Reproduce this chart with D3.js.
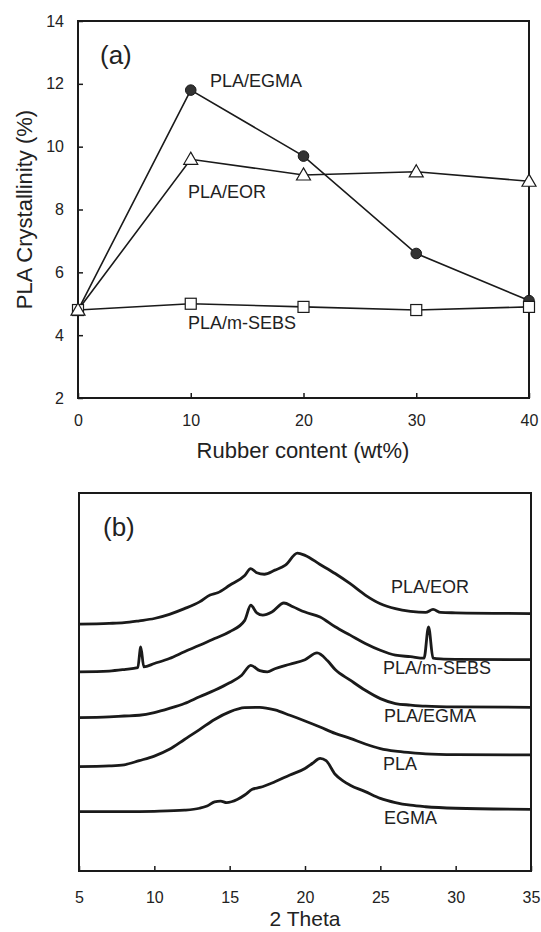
<!DOCTYPE html>
<html>
<head>
<meta charset="utf-8">
<script src="https://cdn.jsdelivr.net/npm/d3@7"></script>
<style>
  body { margin: 0; background: #fff; }
  svg text { font-family: "Liberation Sans", Arial, sans-serif; fill: #222; }
</style>
</head>
<body>
<svg id="chart" width="541" height="932"></svg>
<script>
// ---- panel (a): crystallinity vs rubber content ----
var rubber = [0, 10, 20, 30, 40];
var egma = [4.8, 11.8, 9.7, 6.6, 5.1];
var eor = [4.8, 9.6, 9.1, 9.2, 8.9];
var msebs = [4.8, 5.0, 4.9, 4.8, 4.9];
var aTicksX = [0, 10, 20, 30, 40];
var aTicksY = [2, 4, 6, 8, 10, 12, 14];

// ---- panel (b): XRD patterns, intensity in arbitrary units (offset stacked) ----
var thEGMA = [5, 8, 10, 12, 13, 13.5, 14, 14.4, 14.8, 15.5, 16, 16.5, 17, 18, 19, 20, 20.5, 21, 21.4, 22, 22.5, 23, 24, 25, 26, 27, 28, 30, 35];
var inEGMA = [15.7, 15.7, 15.8, 16.1, 16.6, 17.2, 18.3, 18.5, 18.1, 18.9, 20.1, 21.6, 22.1, 23.6, 25.4, 27.1, 28.5, 29.8, 29.2, 25.6, 23.9, 22.7, 21.0, 19.2, 18.1, 17.4, 17.0, 16.6, 16.3];

var thPLA = [5, 7, 8, 9, 10, 11, 12, 13, 14, 15, 16, 17, 18, 19, 20, 21, 22, 23, 24, 25, 26, 27, 28, 30, 35];
var inPLA = [27.6, 27.8, 28.1, 29.2, 30.4, 32.2, 34.8, 37.4, 40.1, 42.1, 43.2, 43.3, 42.6, 41.2, 39.7, 38.1, 36.4, 35.1, 33.6, 32.4, 31.7, 31.3, 31.0, 30.8, 30.7];

var thPLAEGMA = [5, 7, 8, 9, 10, 11, 12, 13, 14, 15, 15.8, 16.4, 17, 17.5, 18, 19, 20, 20.8, 21.5, 22, 23, 24, 25, 26, 27, 28, 30, 35];
var inPLAEGMA = [40.6, 40.8, 41.0, 41.2, 41.9, 43.0, 44.3, 46.1, 47.8, 49.8, 51.8, 54.4, 53.0, 52.7, 53.5, 54.7, 55.9, 57.7, 55.6, 53.3, 50.5, 47.8, 45.6, 44.3, 43.9, 43.6, 43.4, 43.3];

var thSEBS = [5, 7, 8, 8.9, 9.1, 9.3, 10, 11, 12, 13, 14, 15, 16, 16.4, 16.8, 17.2, 17.8, 18.6, 19.2, 20, 21, 22, 23, 24, 25, 26, 27, 27.9, 28.2, 28.5, 29, 30, 35];
var inSEBS = [52.7, 52.9, 53.3, 53.8, 59.3, 54.0, 54.9, 56.2, 58.0, 59.7, 61.5, 63.3, 66.3, 70.3, 68.3, 67.7, 68.5, 70.9, 69.9, 68.5, 67.2, 64.6, 62.4, 60.2, 58.4, 57.1, 56.7, 56.3, 64.6, 56.3, 56.1, 56.0, 55.9];

var thEOR = [5, 7, 8, 9, 10, 11, 12, 13, 13.7, 14.2, 15, 16, 16.4, 16.8, 17.3, 18, 18.7, 19.5, 20, 21, 22, 23, 24, 25, 26, 27, 28, 28.5, 29, 30, 35];
var inEOR = [65.3, 65.5, 65.7, 66.2, 66.8, 67.9, 69.4, 71.2, 73.0, 73.6, 75.6, 78.2, 80.0, 78.9, 78.5, 79.6, 80.9, 84.1, 83.5, 81.1, 78.7, 76.0, 73.0, 70.7, 69.4, 68.7, 68.4, 69.2, 68.4, 68.3, 68.1];

var bTicksX = [5, 10, 15, 20, 25, 30, 35];

var svg = d3.select("#chart");
var ink = "#1a1a1a";

function box(g, x0, y0, x1, y1){
   g.append("rect").attr("x", x0).attr("y", y0)
      .attr("width", x1 - x0).attr("height", y1 - y0)
      .attr("fill", "none").attr("stroke", ink).attr("stroke-width", 2);
}
function styleAxis(a){
   a.select(".domain").remove();
   a.selectAll("line").attr("stroke", ink).attr("stroke-width", 1.5);
   a.selectAll("text").attr("font-size", 16).attr("fill", "#222")
      .style("font-family", "'Liberation Sans', Arial, sans-serif");
}

// ================= panel (a) =================
var ax = d3.scaleLinear().domain([0, 40]).range([78, 529]);
var ay = d3.scaleLinear().domain([2, 14]).range([398, 21]);
var ga = svg.append("g");

ga.append("g").attr("transform", "translate(0,398)")
   .call(d3.axisBottom(ax).tickValues(aTicksX).tickSizeInner(-5).tickSizeOuter(0).tickPadding(17))
   .call(styleAxis);
ga.append("g").attr("transform", "translate(78,0)")
   .call(d3.axisLeft(ay).tickValues(aTicksY).tickSizeInner(-5).tickSizeOuter(0).tickPadding(14))
   .call(styleAxis);
box(ga, 78, 21, 529, 398);

var line = d3.line().x(function(d, i){ return ax(rubber[i]); }).y(function(d){ return ay(d); });
[egma, eor, msebs].forEach(function(s){
   ga.append("path").attr("d", line(s)).attr("fill", "none")
      .attr("stroke", ink).attr("stroke-width", 1.6);
});

// markers: circles, then squares, then triangles on top
ga.selectAll(".pt-c").data(egma).enter().append("circle")
   .attr("cx", function(d, i){ return ax(rubber[i]); })
   .attr("cy", function(d){ return ay(d); })
   .attr("r", 5.3).attr("fill", "#333").attr("stroke", ink).attr("stroke-width", 1);
ga.selectAll(".pt-s").data(msebs).enter().append("rect")
   .attr("x", function(d, i){ return ax(rubber[i]) - 5.5; })
   .attr("y", function(d){ return ay(d) - 5.5; })
   .attr("width", 11).attr("height", 11)
   .attr("fill", "#fff").attr("stroke", ink).attr("stroke-width", 1.2);
var tri = d3.symbol().type(d3.symbolTriangle).size(85);
ga.selectAll(".pt-t").data(eor).enter().append("path")
   .attr("d", tri)
   .attr("transform", function(d, i){ return "translate(" + ax(rubber[i]) + "," + (ay(d) + 1) + ")"; })
   .attr("fill", "#fff").attr("stroke", ink).attr("stroke-width", 1.2);

ga.append("text").attr("x", 100).attr("y", 64).attr("font-size", 26).text("(a)");
ga.append("text").attr("x", 210).attr("y", 87).attr("font-size", 18).text("PLA/EGMA");
ga.append("text").attr("x", 188).attr("y", 198).attr("font-size", 18).text("PLA/EOR");
ga.append("text").attr("x", 188).attr("y", 329).attr("font-size", 18).text("PLA/m-SEBS");

ga.append("text").attr("x", 303).attr("y", 458).attr("text-anchor", "middle")
   .attr("font-size", 22).text("Rubber content (wt%)");
ga.append("text").attr("transform", "translate(32,209.5) rotate(-90)")
   .attr("text-anchor", "middle").attr("font-size", 22).text("PLA Crystallinity (%)");

// ================= panel (b) =================
var bx = d3.scaleLinear().domain([5, 35]).range([79, 531]);
var by = d3.scaleLinear().domain([0, 100]).range([871, 493]);
var gb = svg.append("g");

gb.append("g").attr("transform", "translate(0,871)")
   .call(d3.axisBottom(bx).tickValues(bTicksX).tickSizeInner(-5).tickSizeOuter(0).tickPadding(21))
   .call(styleAxis);
box(gb, 79, 493, 531, 871);

var xrd = [
   [thEOR, inEOR], [thSEBS, inSEBS], [thPLAEGMA, inPLAEGMA], [thPLA, inPLA], [thEGMA, inEGMA]
];
var bline = d3.line().curve(d3.curveMonotoneX)
   .x(function(d){ return bx(d[0]); }).y(function(d){ return by(d[1]); });
xrd.forEach(function(c){
   var pts = c[0].map(function(t, i){ return [t, c[1][i]]; });
   gb.append("path").attr("d", bline(pts)).attr("fill", "none")
      .attr("stroke", ink).attr("stroke-width", 2.8).attr("stroke-linejoin", "round");
});

gb.append("text").attr("x", 103).attr("y", 536).attr("font-size", 26).text("(b)");
gb.append("text").attr("x", 391).attr("y", 593).attr("font-size", 18).text("PLA/EOR");
gb.append("text").attr("x", 383).attr("y", 674).attr("font-size", 18).text("PLA/m-SEBS");
gb.append("text").attr("x", 384).attr("y", 722).attr("font-size", 18).text("PLA/EGMA");
gb.append("text").attr("x", 383).attr("y", 770).attr("font-size", 18).text("PLA");
gb.append("text").attr("x", 384).attr("y", 824).attr("font-size", 18).text("EGMA");

gb.append("text").attr("x", 305).attr("y", 926).attr("text-anchor", "middle")
   .attr("font-size", 21).text("2 Theta");
</script>
</body>
</html>
